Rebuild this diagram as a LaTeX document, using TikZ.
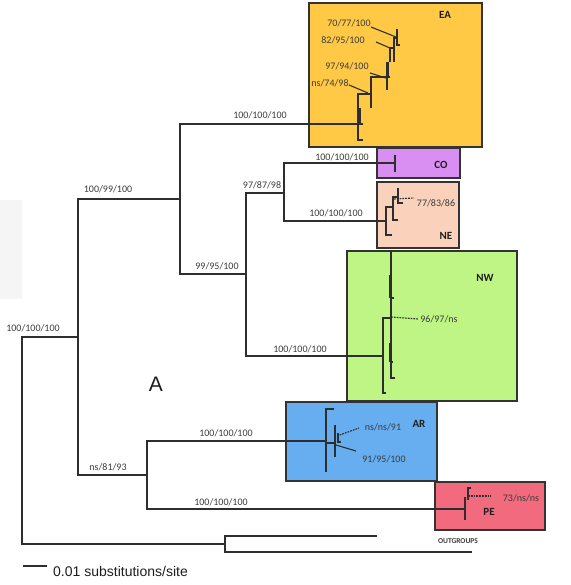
\documentclass[tikz,border=0pt]{standalone}
\usepackage{fontspec}
\setmainfont{Carlito}
\newfontfamily\arialf{Liberation Sans}
\definecolor{treec}{HTML}{2E2E2E}
\definecolor{lblc}{HTML}{3C3C3C}
\definecolor{regc}{HTML}{1E1E1E}
\definecolor{boxc}{HTML}{333333}
\definecolor{eac}{HTML}{FFC845}
\definecolor{coc}{HTML}{D98EF2}
\definecolor{nec}{HTML}{FAD1BA}
\definecolor{nwc}{HTML}{BEF584}
\definecolor{arc}{HTML}{67AEF0}
\definecolor{pec}{HTML}{F26A7E}
\begin{document}
\begin{tikzpicture}[x=1pt,y=-1pt,
 br/.style={draw=treec,line width=1.2pt},
 sub/.style={draw=treec,line width=1.1pt},
 thk/.style={draw=treec,line width=2.2pt},
 lbl/.style={font=\fontsize{10}{12}\selectfont,text=lblc,inner sep=0pt,anchor=base},
 reg/.style={font=\fontsize{11}{12}\selectfont\bfseries,text=regc,inner sep=0pt,anchor=base},
 boxs/.style={draw=boxc,line width=1.3pt},
 lead/.style={draw=treec,line width=1.1pt},
 leadd/.style={draw=treec,line width=1.1pt,dash pattern=on 1.8pt off 1pt},
]
\useasboundingbox (0,0) rectangle (570,585);
% faint grey patch at left
\fill[black!4] (0,200) rectangle (22,299);

% clade boxes
\draw[boxs,fill=eac] (309,3) rectangle (482,147);
\draw[boxs,fill=coc] (377,148) rectangle (460,178);
\draw[boxs,fill=nec] (377,182) rectangle (459,248);
\draw[boxs,fill=nwc] (347,251) rectangle (517,401);
\draw[boxs,fill=arc] (286,402) rectangle (437,481);
\draw[boxs,fill=pec] (435,482) rectangle (545,530);

% tree node coordinates
\coordinate (rt) at (22,440);
\coordinate (n1) at (78,337);
\coordinate (n2) at (180,199);
\coordinate (n3) at (246,274);
\coordinate (n4) at (284,193);
\coordinate (n5) at (147,475);
\coordinate (og) at (225,544);
\coordinate (oa) at (377,536);
\coordinate (ob) at (472,552);
\coordinate (ea) at (363,124);
\coordinate (co) at (395,163);
\coordinate (ne) at (386,221);
\coordinate (nw) at (383,356);
\coordinate (ar) at (326,441);
\coordinate (pe) at (465,509);

% backbone
\draw[br] (n1) -| (rt) |- (og);
\draw[br] (n2) -| (n1) |- (n5);
\draw[br] (ea) -| (n2) |- (n3);
\draw[br] (n4) -| (n3) |- (nw);
\draw[br] (co) -| (n4) |- (ne);
\draw[br] (ar) -| (n5) |- (pe);
\draw[br] (oa) -| (og) |- (ob);

% CO tip
\draw[sub] (395,155) -- (395,172);

% EA subtree
\draw[sub] (363,140) -- (358,140) -- (358,94) -- (371,94);
\draw[thk] (359.5,108) -- (359.5,123);
\draw[sub] (371,108) -- (371,77) -- (390,77);
\draw[sub] (387,90) -- (387,62);
\draw[thk] (388,62) -- (388,78);
\draw[sub] (390,62) -- (390,48) -- (393,48);
\draw[sub] (394,62) -- (394,38) -- (397,38);
\draw[sub] (397,29) -- (397,45) -- (400,45);
\draw[lead] (371,27) -- (396,37);
\draw[lead] (376,42) -- (390,48);
\draw[lead] (370,73) -- (386,78);
\draw[lead] (349,85) -- (368,93);

% NE subtree
\draw[sub] (392,235) -- (386,235) -- (386,207) -- (393,207);
\draw[sub] (398,220) -- (393,220) -- (393,197) -- (398,197);
\draw[sub] (398,188) -- (398,203) -- (403,203);
\draw[leadd] (394,199) -- (414,198);

% NW subtree
\draw[sub] (391,250) -- (391,378) -- (395,378);
\draw[thk] (390.5,275) -- (390.5,298);
\draw[thk] (390.5,343) -- (390.5,362);
\draw[sub] (391,298) -- (394,298);
\draw[sub] (391,362) -- (393,362);
\draw[sub] (391,318) -- (383,318) -- (383,393) -- (386,393);
\draw[leadd] (391,317) -- (418,319);

% AR subtree
\draw[sub] (326,472) -- (326,409) -- (334,409);
\draw[sub] (326,443) -- (335,443);
\draw[sub] (335,425) -- (335,457);
\draw[sub] (338,433) -- (338,442) -- (341,442);
\draw[leadd] (337,436) -- (359,428);
\draw[lead] (336,445) -- (356,451);

% PE subtree
\draw[sub] (465,497) -- (465,520);
\draw[sub] (468,500) -- (468,488) -- (471,488);
\draw[leadd] (468,496) -- (491,496);

% support labels
\node[lbl] (l0) at (33,331) {100/100/100};
\node[lbl] (l1) at (108,193) {100/99/100};
\node[lbl] (l2) at (260,119) {100/100/100};
\node[lbl] (l3) at (262,189) {97/87/98};
\node[lbl] (l4) at (217,269) {99/95/100};
\node[lbl] (l5) at (342,161) {100/100/100};
\node[lbl] (l6) at (336,216) {100/100/100};
\node[lbl] (l7) at (300,352) {100/100/100};
\node[lbl] (l8) at (108,470) {ns/81/93};
\node[lbl] (l9) at (226,436) {100/100/100};
\node[lbl] (l10) at (221,505) {100/100/100};
\node[lbl] (e1) at (349,27) {70/77/100};
\node[lbl] (e2) at (343,44) {82/95/100};
\node[lbl] (e3) at (347,70) {97/94/100};
\node[lbl] (e4) at (330,87) {ns/74/98};
\node[lbl] (ne1) at (436,207) {77/83/86};
\node[lbl] (nw1) at (439,322) {96/97/ns};
\node[lbl] (ar1) at (383,430) {ns/ns/91};
\node[lbl] (ar2) at (384,462) {91/95/100};
\node[lbl] (pe1) at (521,501) {73/ns/ns};

% region labels
\node[reg] (tEA) at (445,19) {EA};
\node[reg] (tCO) at (441,169) {CO};
\node[reg] (tNE) at (446,239) {NE};
\node[reg] (tNW) at (485,281) {NW};
\node[reg] (tAR) at (419,427) {AR};
\node[reg] (tPE) at (489,515) {PE};
\node[font=\fontsize{7.5}{9}\selectfont\bfseries,text=lblc,inner sep=0pt,anchor=base] (tOG) at (458,543) {OUTGROUPS};

% panel letter and scale bar
\node[font=\arialf\fontsize{21}{24}\selectfont,text=regc,inner sep=0pt,anchor=base] (tA) at (156,391) {A};
\coordinate (s0) at (23,566);
\coordinate (s1) at (47,566);
\draw[sub] (s0) -- (s1);
\node[font=\arialf\fontsize{14}{16}\selectfont,text=regc,inner sep=0pt,anchor=base west] (scl) at (53,576) {0.01 substitutions/site};
\end{tikzpicture}
\end{document}
